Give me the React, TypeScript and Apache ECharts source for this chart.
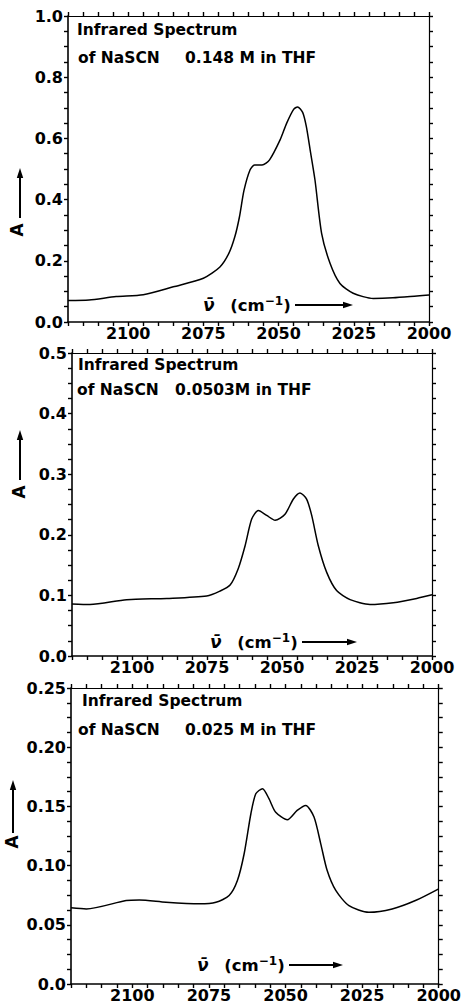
import React, { useEffect, useRef } from "react";
import * as echarts from "echarts";

// Wavenumbers (cm^-1) and absorbance for the three NaSCN concentrations
const wn148 = [2120, 2113, 2104, 2095, 2085, 2075, 2069.5, 2066.5, 2064.5, 2063, 2061.5, 2059.5, 2058, 2055.5, 2053, 2049.5, 2047.3, 2045, 2043.7, 2042, 2040.8, 2039.5, 2037.9, 2035.7, 2032.9, 2029.6, 2025.2, 2018.5, 2012, 2004, 2000];
const abs148 = [0.070, 0.072, 0.083, 0.089, 0.115, 0.143, 0.18, 0.225, 0.28, 0.344, 0.43, 0.497, 0.513, 0.513, 0.53, 0.595, 0.65, 0.695, 0.703, 0.685, 0.64, 0.562, 0.464, 0.29, 0.192, 0.126, 0.094, 0.077, 0.079, 0.085, 0.088];

const wn0503 = [2120, 2114, 2101.8, 2088.4, 2075.1, 2070.7, 2067.3, 2064.6, 2062.3, 2060.1, 2057.9, 2055.1, 2052.3, 2049, 2046.2, 2044, 2041.8, 2040.1, 2037.9, 2035.1, 2031.8, 2027.3, 2020.7, 2012.9, 2005.1, 2000];
const abs0503 = [0.086, 0.085, 0.093, 0.095, 0.099, 0.107, 0.117, 0.144, 0.182, 0.226, 0.24, 0.232, 0.224, 0.234, 0.259, 0.269, 0.259, 0.232, 0.182, 0.138, 0.108, 0.093, 0.085, 0.088, 0.095, 0.101];

const wn025 = [2120, 2115, 2102, 2097.7, 2089, 2078, 2072.7, 2068.4, 2065.7, 2063.5, 2061.3, 2059.7, 2057.5, 2055.4, 2053.2, 2049.4, 2046.2, 2043.4, 2040.7, 2038.5, 2036.4, 2033.6, 2029.3, 2022.8, 2015.2, 2007.6, 2000];
const abs025 = [0.0643, 0.0634, 0.0705, 0.071, 0.069, 0.0677, 0.069, 0.0747, 0.0874, 0.11, 0.1438, 0.1607, 0.165, 0.1565, 0.145, 0.1387, 0.1466, 0.1508, 0.141, 0.1184, 0.0958, 0.079, 0.0662, 0.0606, 0.0634, 0.0705, 0.0804];

// Axis settings per panel
const xTickLabels = [2100, 2075, 2050, 2025, 2000];
const yMax = [1.0, 0.5, 0.25];
const yTickStep = [0.05, 0.025, 0.0125];
const yLabelStep = [0.2, 0.1, 0.05];
const yLabelDigits = [1, 1, 2];
const concLabels = ["0.148 M in THF", "0.0503M in THF", "0.025 M in THF"];

const FONT = "DejaVu Sans";

const panels = [
  { wn: wn148, abs: abs148, grid: { left: 68, top: 16, width: 361, height: 306 } },
  { wn: wn0503, abs: abs0503, grid: { left: 72, top: 353, width: 360, height: 303 } },
  { wn: wn025, abs: abs025, grid: { left: 71, top: 688, width: 369, height: 297 } },
];

// Hand-placed annotation positions for each panel
const annot = [
  { t1: [77, 30], t2: [78, 58], conc: 185, xl: [203, 305], arrow: [295, 353], ya: [17, 230], yArrow: [20, 218, 168] },
  { t1: [78, 365], t2: [77, 390], conc: 175, xl: [210, 642], arrow: [302, 357], ya: [19, 492], yArrow: [20, 480, 430] },
  { t1: [82, 701], t2: [78, 730], conc: 185, xl: [197, 965], arrow: [289, 343], ya: [12, 842], yArrow: [13, 833, 780] },
];

function isMultiple(v: number, step: number) {
  const r = v / step;
  return Math.abs(r - Math.round(r)) < 1e-6;
}

export default function App() {
  const ref = useRef<HTMLDivElement>(null);

  useEffect(() => {
    document.body.style.margin = "0";
    if (!ref.current) return;
    const chart = echarts.init(ref.current, null, { renderer: "svg" });

    const axisLine = (w: number) => ({ show: true, onZero: false, lineStyle: { color: "#000", width: w } });
    const tick = { show: true, length: 4, inside: false, lineStyle: { color: "#000", width: 1.4 } };

    const grids: any[] = [];
    const xAxes: any[] = [];
    const yAxes: any[] = [];
    const series: any[] = [];
    const graphic: any[] = [];

    panels.forEach((p, i) => {
      grids.push({ ...p.grid, containLabel: false });
      const xBase = { type: "value", gridIndex: i, min: 2000, max: 2120, interval: 5, inverse: true, splitLine: { show: false }, axisTick: tick };
      xAxes.push({
        ...xBase,
        position: "bottom",
        axisLine: axisLine(1.6),
        axisLabel: {
          show: true,
          margin: 3,
          color: "#000",
          fontFamily: FONT,
          fontWeight: "bold",
          fontSize: 16,
          formatter: (v: number) => (xTickLabels.includes(v) ? String(v) : ""),
        },
      });
      xAxes.push({ ...xBase, position: "top", axisLine: axisLine(1.2), axisLabel: { show: false } });

      const yBase = { type: "value", gridIndex: i, min: 0, max: yMax[i], interval: yTickStep[i], splitLine: { show: false }, axisTick: tick };
      yAxes.push({
        ...yBase,
        position: "left",
        axisLine: axisLine(1.6),
        axisLabel: {
          show: true,
          margin: 5,
          color: "#000",
          fontFamily: FONT,
          fontWeight: "bold",
          fontSize: 16,
          formatter: (v: number) => {
            if (!isMultiple(v, yLabelStep[i])) return "";
            return v === 0 ? "0.0" : v.toFixed(yLabelDigits[i]);
          },
        },
      });
      yAxes.push({ ...yBase, position: "right", axisLine: axisLine(1.2), axisLabel: { show: false } });

      series.push({
        type: "line",
        xAxisIndex: 2 * i,
        yAxisIndex: 2 * i,
        data: p.wn.map((w, k) => [w, p.abs[k]]),
        smooth: 0.25,
        showSymbol: false,
        lineStyle: { color: "#000", width: 1.5 },
      });

      const a = annot[i];
      const txt = { fill: "#000", fontFamily: FONT, fontWeight: "bold", fontSize: 15.5, verticalAlign: "middle" };
      graphic.push({ type: "text", x: a.t1[0], y: a.t1[1], style: { ...txt, text: "Infrared Spectrum" } });
      graphic.push({ type: "text", x: a.t2[0], y: a.t2[1], style: { ...txt, text: "of NaSCN" } });
      graphic.push({ type: "text", x: a.conc, y: a.t2[1], style: { ...txt, text: concLabels[i] } });

      // wavenumber axis caption with arrow
      const capStyle = { fontFamily: FONT, fontWeight: "bold", fill: "#000" };
      graphic.push({
        type: "text",
        x: a.xl[0],
        y: a.xl[1],
        style: {
          ...txt,
          text: "{nu|ν̄}{sp|   }{t|(cm}{sup|−1}{t|)}",
          rich: {
            nu: { ...capStyle, fontStyle: "italic", fontSize: 17, lineHeight: 20, verticalAlign: "middle" },
            sp: { ...capStyle, fontSize: 15, lineHeight: 20, verticalAlign: "middle" },
            t: { ...capStyle, fontSize: 16.5, lineHeight: 20, verticalAlign: "middle" },
            sup: { ...capStyle, fontSize: 12, lineHeight: 20, verticalAlign: "top" },
          },
        },
      });
      const [as, ae] = a.arrow;
      graphic.push({ type: "line", shape: { x1: as, y1: a.xl[1], x2: ae - 6, y2: a.xl[1] }, style: { stroke: "#000", lineWidth: 2 } });
      graphic.push({
        type: "polygon",
        shape: { points: [[ae - 10, a.xl[1] - 3.2], [ae, a.xl[1]], [ae - 10, a.xl[1] + 3.2]] },
        style: { fill: "#000" },
      });

      // absorbance caption with upward arrow
      graphic.push({
        type: "text",
        x: a.ya[0],
        y: a.ya[1],
        rotation: Math.PI / 2,
        style: { ...txt, fontSize: 17, text: "A", align: "center" },
      });
      const [ax, yb, yt] = a.yArrow;
      graphic.push({ type: "line", shape: { x1: ax, y1: yb, x2: ax, y2: yt + 7 }, style: { stroke: "#000", lineWidth: 2 } });
      graphic.push({
        type: "polygon",
        shape: { points: [[ax - 3.2, yt + 10], [ax, yt], [ax + 3.2, yt + 10]] },
        style: { fill: "#000" },
      });
    });

    chart.setOption({
      animation: false,
      backgroundColor: "#fff",
      grid: grids,
      xAxis: xAxes,
      yAxis: yAxes,
      series,
      graphic,
    });

    return () => chart.dispose();
  }, []);

  return <div ref={ref} style={{ width: 464, height: 1003 }} />;
}
